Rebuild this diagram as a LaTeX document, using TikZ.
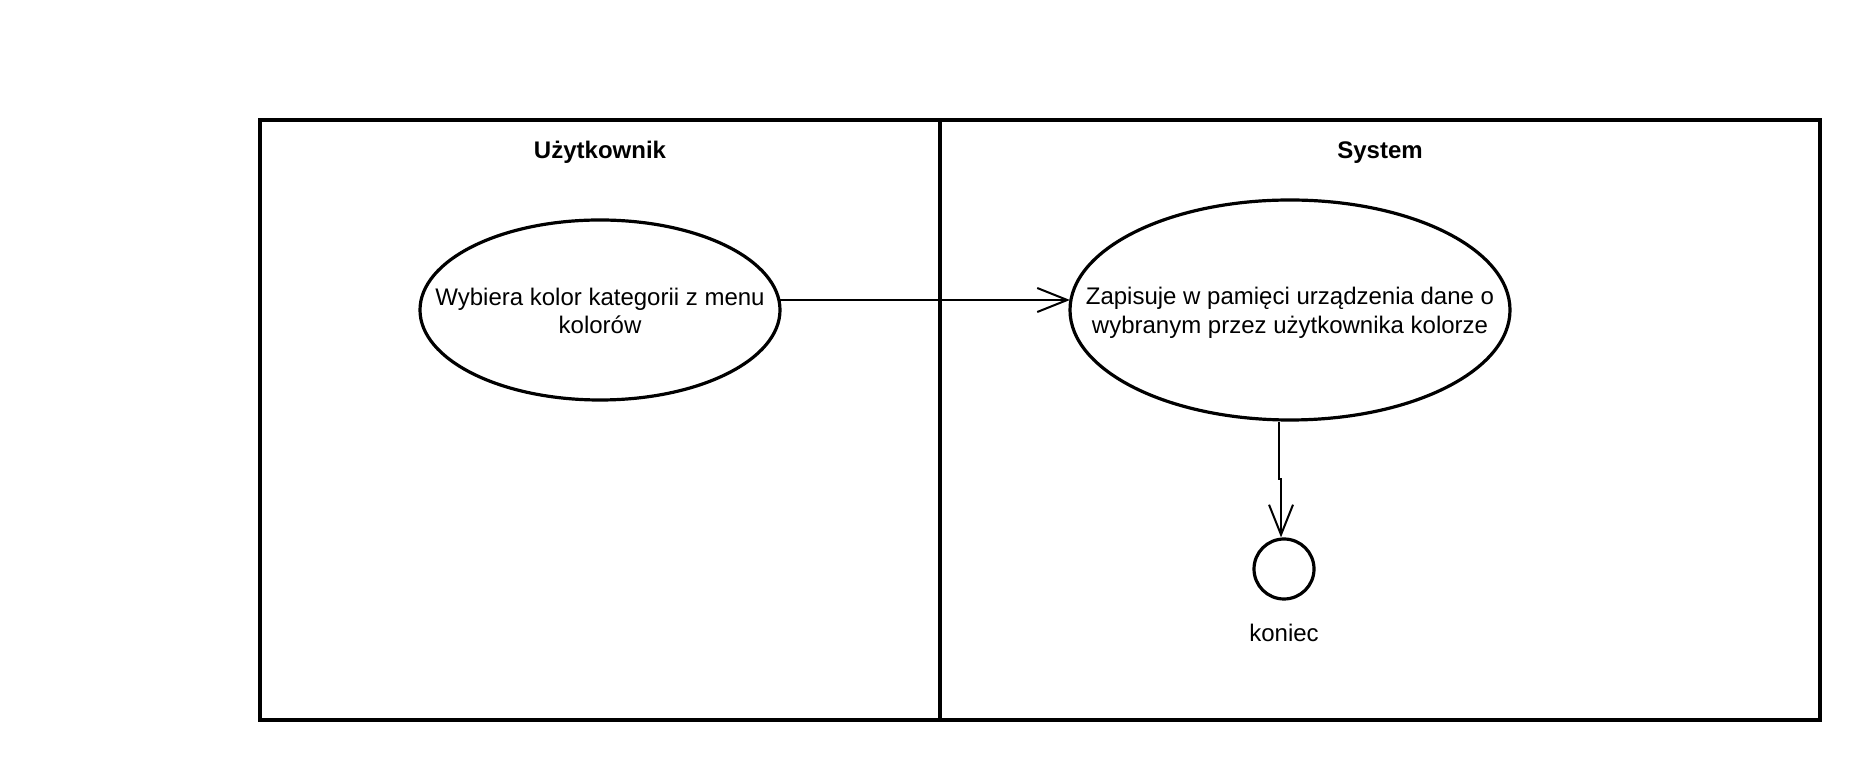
\documentclass[tikz,border=0pt]{standalone}
\usepackage{fontspec}
\setmainfont{Liberation Sans}
\usetikzlibrary{arrows.meta,shapes.geometric}
\begin{document}
\begin{tikzpicture}[x=1pt,y=1pt,
  lane/.style={draw, line width=4pt, inner sep=0pt, outer sep=0pt, anchor=south west},
  usecase/.style={draw, ellipse, line width=3.2pt, inner sep=0pt},
  lbl/.style={font=\fontsize{24}{28.8}\selectfont, align=center, inner sep=0pt},
  hdr/.style={font=\fontsize{24}{28.8}\selectfont\bfseries, inner sep=0pt, anchor=base},
  flow/.style={line width=2pt, -{Straight Barb[length=30pt,width=24pt,line width=2pt]}},
  final/.style={draw, circle, line width=3.2pt, minimum size=60pt, inner sep=0pt}]
\useasboundingbox (0,0) rectangle (1860,760);
\node[lane, minimum width=680, minimum height=600] (l1) at (260,40) {};
\node[lane, minimum width=880, minimum height=600] (l2) at (940,40) {};
\node[hdr] (h1) at (600,601) {Użytkownik};
\node[hdr] (h2) at (1380,601) {System};
\node[usecase, minimum width=360, minimum height=180] (e1) at (600,450) {};
\node[lbl, yshift=-1pt] (t1) at (e1.center) {Wybiera kolor kategorii z menu\\kolorów};
\node[usecase, minimum width=440, minimum height=220] (e2) at (1290,450) {};
\node[lbl, yshift=-3pt] (t2) at (e2.center) {Zapisuje w pamięci urządzenia dane o\\wybranym przez użytkownika kolorze};
\draw[flow] ([yshift=10pt,xshift=-1.5pt]e1.east) -- ([yshift=10pt,xshift=1.5pt]e2.west);
\node[final] (c) at (1284,191) {};
\coordinate (j1) at (1279,281);
\coordinate (j2) at (1281,281);
\draw[flow] (e2.south -| j1) -- (j1) -- (j2) -- (j2 |- c.north);
\node[lbl, anchor=base] (k) at (1284,118) {koniec};
\end{tikzpicture}
\end{document}
